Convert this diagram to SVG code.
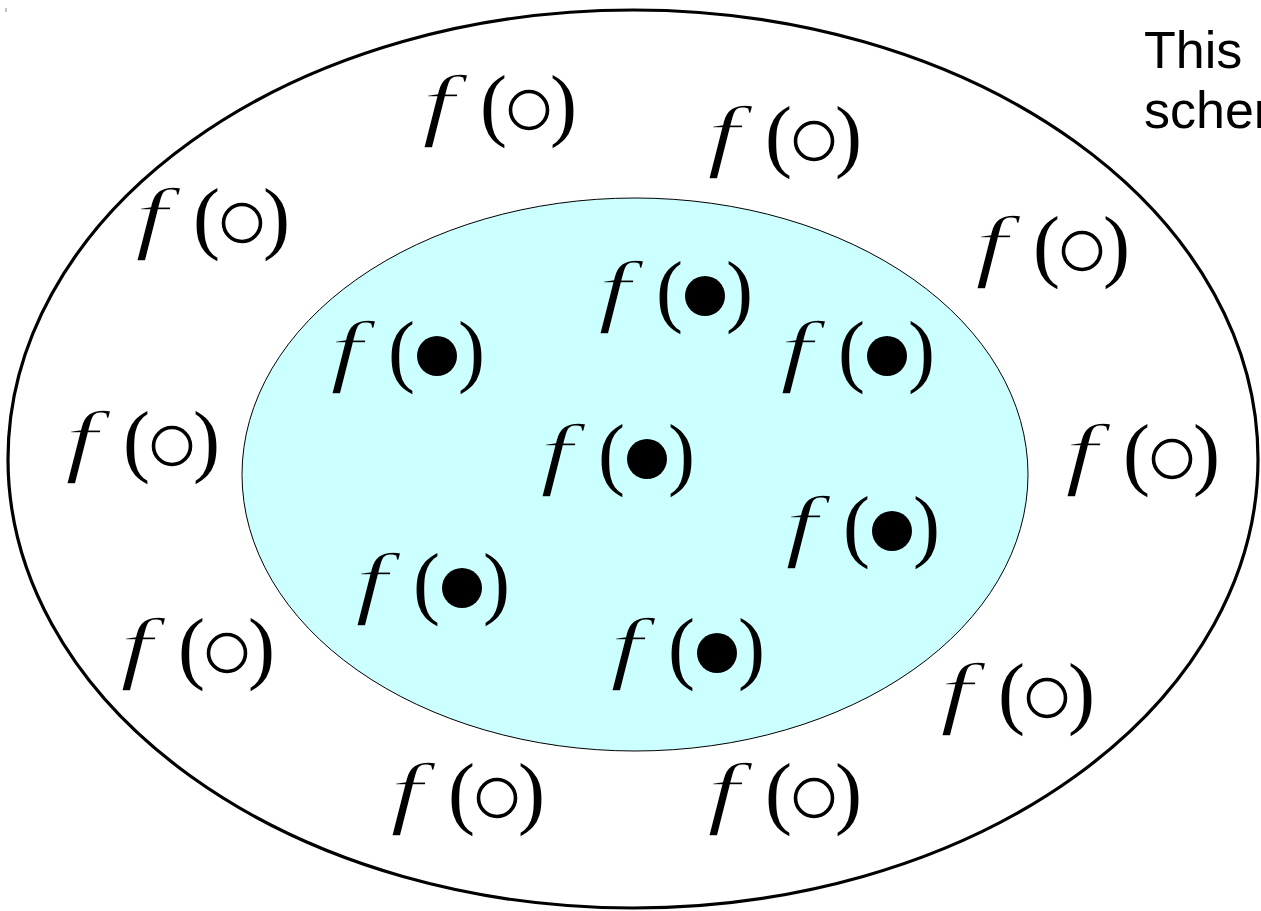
<svg xmlns="http://www.w3.org/2000/svg" width="1261" height="911" viewBox="0 0 1261 911">
<style>
.f{font-family:"Liberation Serif","Times New Roman",serif;font-style:italic;font-size:81px;fill:#000;stroke:#fff;stroke-width:1.4}
.in .f{stroke:#ccffff}
.p{font-family:"Liberation Serif","Times New Roman",serif;font-size:81px;fill:#000}
.ho{fill:none;stroke:#000;stroke-width:3.6}
.fi{fill:#000}
.tk{stroke:#888;stroke-width:1}
.note{font-family:"Liberation Sans",Arial,sans-serif;font-size:52px;fill:#000}
</style>
<rect width="1261" height="911" fill="#fff"/>
<line class="tk" x1="6" y1="8" x2="6" y2="12"/>
<g id="outer"><ellipse cx="633" cy="459" rx="625" ry="449" fill="#fff" stroke="#000" stroke-width="3.2"/></g>
<g id="inner"><ellipse cx="635" cy="474.5" rx="393" ry="276.5" fill="#ccffff" stroke="#000" stroke-width="1"/></g>
<g id="n1" transform="translate(422,131)"><text class="f" transform="scale(1.45,1)">f</text><text class="p" x="58">(</text><circle class="ho" cx="107" cy="-21" r="18.5"/><text class="p" x="128">)</text></g>
<g id="n2" transform="translate(707,162)"><text class="f" transform="scale(1.45,1)">f</text><text class="p" x="58">(</text><circle class="ho" cx="107" cy="-21" r="18.5"/><text class="p" x="128">)</text></g>
<g id="n3" transform="translate(135,244)"><text class="f" transform="scale(1.45,1)">f</text><text class="p" x="58">(</text><circle class="ho" cx="107" cy="-21" r="18.5"/><text class="p" x="128">)</text></g>
<g id="n4" transform="translate(975,272)"><text class="f" transform="scale(1.45,1)">f</text><text class="p" x="58">(</text><circle class="ho" cx="107" cy="-21" r="18.5"/><text class="p" x="128">)</text></g>
<g id="n5" transform="translate(65,467)"><text class="f" transform="scale(1.45,1)">f</text><text class="p" x="58">(</text><circle class="ho" cx="107" cy="-21" r="18.5"/><text class="p" x="128">)</text></g>
<g id="n6" transform="translate(1065,480)"><text class="f" transform="scale(1.45,1)">f</text><text class="p" x="58">(</text><circle class="ho" cx="107" cy="-21" r="18.5"/><text class="p" x="128">)</text></g>
<g id="n7" transform="translate(120,674)"><text class="f" transform="scale(1.45,1)">f</text><text class="p" x="58">(</text><circle class="ho" cx="107" cy="-21" r="18.5"/><text class="p" x="128">)</text></g>
<g id="n8" transform="translate(940,719)"><text class="f" transform="scale(1.45,1)">f</text><text class="p" x="58">(</text><circle class="ho" cx="107" cy="-21" r="18.5"/><text class="p" x="128">)</text></g>
<g id="n9" transform="translate(390,819)"><text class="f" transform="scale(1.45,1)">f</text><text class="p" x="58">(</text><circle class="ho" cx="107" cy="-21" r="18.5"/><text class="p" x="128">)</text></g>
<g id="n10" transform="translate(707,819)"><text class="f" transform="scale(1.45,1)">f</text><text class="p" x="58">(</text><circle class="ho" cx="107" cy="-21" r="18.5"/><text class="p" x="128">)</text></g>
<g id="n11" class="in" transform="translate(598,317)"><text class="f" transform="scale(1.45,1)">f</text><text class="p" x="58">(</text><circle class="fi" cx="107" cy="-21" r="20"/><text class="p" x="128">)</text></g>
<g id="n12" class="in" transform="translate(330,377)"><text class="f" transform="scale(1.45,1)">f</text><text class="p" x="58">(</text><circle class="fi" cx="107" cy="-21" r="20"/><text class="p" x="128">)</text></g>
<g id="n13" class="in" transform="translate(780,377)"><text class="f" transform="scale(1.45,1)">f</text><text class="p" x="58">(</text><circle class="fi" cx="107" cy="-21" r="20"/><text class="p" x="128">)</text></g>
<g id="n14" class="in" transform="translate(540,480)"><text class="f" transform="scale(1.45,1)">f</text><text class="p" x="58">(</text><circle class="fi" cx="107" cy="-21" r="20"/><text class="p" x="128">)</text></g>
<g id="n15" class="in" transform="translate(785,552)"><text class="f" transform="scale(1.45,1)">f</text><text class="p" x="58">(</text><circle class="fi" cx="107" cy="-21" r="20"/><text class="p" x="128">)</text></g>
<g id="n16" class="in" transform="translate(355,609)"><text class="f" transform="scale(1.45,1)">f</text><text class="p" x="58">(</text><circle class="fi" cx="107" cy="-21" r="20"/><text class="p" x="128">)</text></g>
<g id="n17" class="in" transform="translate(610,674)"><text class="f" transform="scale(1.45,1)">f</text><text class="p" x="58">(</text><circle class="fi" cx="107" cy="-21" r="20"/><text class="p" x="128">)</text></g>
<g id="note"><text class="note" x="1144" y="68">This</text><text class="note" x="1144" y="128">scheme</text></g>
<g id="connectors"></g>
</svg>
